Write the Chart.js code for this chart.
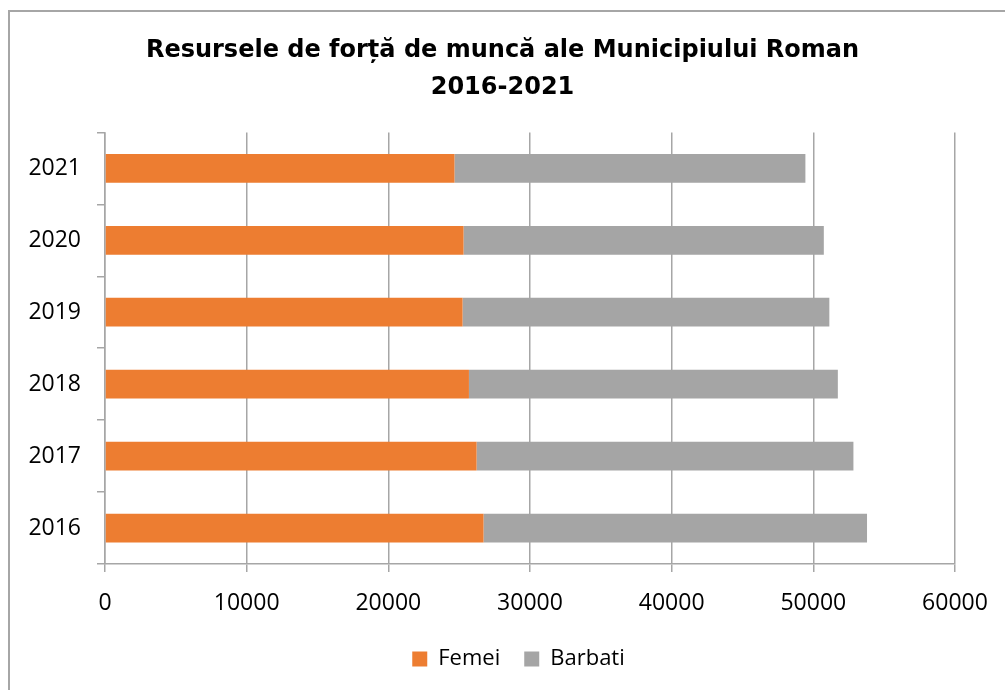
<!DOCTYPE html>
<html>
<head>
<meta charset="utf-8">
<script src="https://cdn.jsdelivr.net/npm/chart.js@4/dist/chart.umd.min.js"></script>
<style>
  html, body { margin: 0; padding: 0; background: #fff; }
  #wrap { position: relative; width: 1005px; height: 690px; overflow: hidden; }
  #frame { position: absolute; left: 8px; top: 10px; width: 1020px; height: 700px; border: 2px solid #a6a6a6; }
  #wrap canvas { position: absolute; left: 0; top: 0; }
</style>
</head>
<body>
<div id="wrap">
  <div id="frame"></div>
  <canvas id="laborChart" width="1005" height="690"></canvas>
</div>
<script>
const years = ['2016', '2017', '2018', '2019', '2020', '2021'];
const femei = [26720, 26230, 25690, 25240, 25310, 24670];
const barbati = [27070, 26600, 26040, 25890, 25430, 24770];
const xTicks = [0, 10000, 20000, 30000, 40000, 50000, 60000];

const axisGray = '#a6a6a6';
const tickFont = { family: 'Open Sans', size: 23 };

// nudge the legend a bit to the right of the canvas centre
const legendShift = {
  id: 'legendShift',
  afterLayout(chart) {
    chart.legend.left += 16;
    chart.legend.right += 16;
  },
};

new Chart(document.getElementById('laborChart'), {
  type: 'bar',
  data: {
    labels: years,
    datasets: [
      { label: 'Femei', data: femei, backgroundColor: '#ed7d31', barPercentage: 0.4, categoryPercentage: 1 },
      { label: 'Barbati', data: barbati, backgroundColor: '#a5a5a5', barPercentage: 0.4, categoryPercentage: 1 },
    ],
  },
  options: {
    indexAxis: 'y',
    responsive: false,
    animation: false,
    layout: { padding: { top: 32, right: 0, bottom: 10, left: 0 } },
    plugins: {
      title: {
        display: true,
        text: ['Resursele de forță de muncă ale Municipiului Roman', '2016-2021'],
        color: '#000',
        font: { family: 'DejaVu Sans', size: 24, weight: 'bold', lineHeight: 1.55 },
        padding: { top: 0, bottom: 26 },
      },
      legend: {
        position: 'bottom',
        labels: {
          color: '#000',
          font: { family: 'Open Sans', size: 22 },
          boxWidth: 15,
          boxHeight: 15,
          padding: 24,
        },
      },
      tooltip: { enabled: false },
    },
    scales: {
      x: {
        stacked: true,
        min: 0,
        max: 60000,
        afterBuildTicks: (scale) => { scale.ticks = xTicks.map((v) => ({ value: v })); },
        afterFit: (scale) => {
          scale.height = 60;
          scale.paddingLeft = 0;
          scale.paddingRight = 50;
        },
        ticks: { color: '#000', font: tickFont, padding: 18, callback: (v) => String(v) },
        grid: { color: axisGray, lineWidth: 1.5, tickLength: 8 },
        border: { color: axisGray, width: 1.5 },
      },
      y: {
        stacked: true,
        reverse: true,
        afterFit: (scale) => { scale.width = 105; },
        ticks: { color: '#000', font: tickFont, padding: 16 },
        grid: { drawOnChartArea: false, color: axisGray, lineWidth: 1.5, tickLength: 8, offset: true },
        border: { color: axisGray, width: 1.5 },
      },
    },
  },
  plugins: [legendShift],
});
</script>
</body>
</html>
